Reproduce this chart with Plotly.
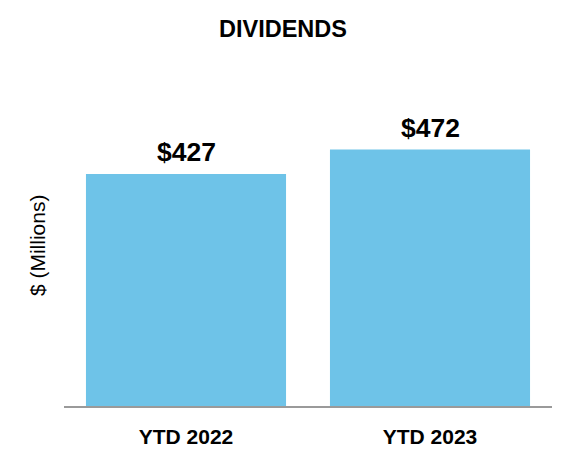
import plotly.graph_objects as go

categories = ["YTD 2022", "YTD 2023"]
values = [427, 472]
labels = ["$427", "$472"]

FONT = "Liberation Sans, Arial, sans-serif"

fig = go.Figure()
fig.add_trace(go.Bar(
    x=categories, y=values,
    marker=dict(color="#6EC3E8", line=dict(width=0)),
    hoverinfo="skip",
))

for c, v, t in zip(categories, values, labels):
    fig.add_annotation(x=c, y=v, text="<b>%s</b>" % t, showarrow=False,
                       yanchor="bottom", yshift=5,
                       font=dict(family=FONT, size=26.5, color="#000"))

fig.add_annotation(x=0, y=0.465, xref="paper", yref="paper", xanchor="center", yanchor="middle",
                   xshift=-27, text="$ (Millions)", textangle=-90, showarrow=False,
                   font=dict(family=FONT, size=21, color="#000"))

fig.update_layout(
    width=572, height=466,
    margin=dict(l=56, r=28, t=52, b=68),
    plot_bgcolor="white", paper_bgcolor="white",
    bargap=0.18,
    showlegend=False,
    title=dict(text="<b>DIVIDENDS</b>", x=(283 - 8) / 572, xanchor="center",
               y=1 - 21 / 466, yanchor="middle",
               font=dict(family=FONT, size=23.5, color="#000")),
    font=dict(family=FONT, color="#000"),
)
fig.update_xaxes(showline=True, linecolor="#9a9a9a", linewidth=2, ticks="",
                 tickfont=dict(size=21), tickvals=categories, ticklabelstandoff=11,
                 ticktext=["<b>%s</b>" % c for c in categories])
fig.update_yaxes(range=[0, 637], showgrid=False, showticklabels=False, zeroline=False)

fig.write_html("out.html")
